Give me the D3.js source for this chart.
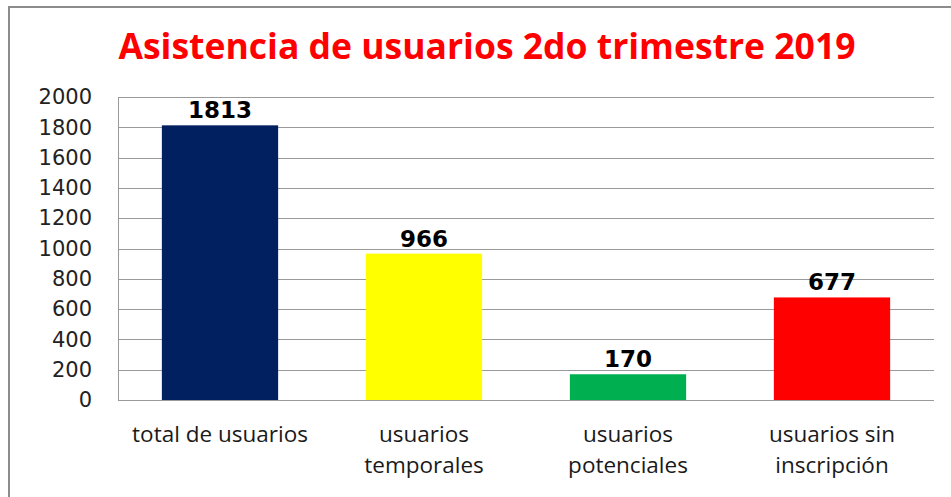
<!DOCTYPE html>
<html>
<head>
<meta charset="utf-8">
<script src="https://cdn.jsdelivr.net/npm/d3@7"></script>
<style>
  body { margin: 0; background: #fff; }
  svg { display: block; }
</style>
</head>
<body>
<div id="chart"></div>
<script>
var categories = [["total de usuarios"], ["usuarios", "temporales"], ["usuarios", "potenciales"], ["usuarios sin", "inscripción"]]
var values = [1813, 966, 170, 677]
var colors = ["#002060", "#ffff00", "#00b050", "#ff0000"]
var yTicks = [0, 200, 400, 600, 800, 1000, 1200, 1400, 1600, 1800, 2000]
var title = "Asistencia de usuarios 2do trimestre 2019"

var width = 951, height = 497
var margin = { left: 118, right: 17, top: 97, bottom: 97 }

const svg = d3.select("#chart")
    .append("svg")
    .attr("width", width)
    .attr("height", height)

// outer frame
svg.append("rect")
    .attr("x", 9).attr("y", 7)
    .attr("width", width + 20).attr("height", height + 20)
    .attr("fill", "none")
    .attr("stroke", "#8c8c8c")
    .attr("stroke-width", 2)

svg.append("text")
    .attr("x", 487).attr("y", 59)
    .attr("text-anchor", "middle")
    .style("font-family", "'Open Sans', sans-serif")
    .style("font-weight", "bold")
    .style("font-size", "35.5px")
    .style("fill", "#ff0000")
    .text(title)

var idx = values.map((d, i) => i)
var xScale = d3.scaleBand()
    .domain(idx)
    .range([margin.left, width - margin.right])
    .paddingInner(0.43)
    .paddingOuter(0.215)
var yScale = d3.scaleLinear()
    .domain([0, 2000])
    .range([height - margin.bottom, margin.top])

// gridlines
svg.append("g")
    .selectAll("line")
    .data(yTicks)
    .enter()
    .append("line")
    .attr("x1", margin.left)
    .attr("x2", width - margin.right)
    .attr("y1", d => Math.round(yScale(d)) + 0.5)
    .attr("y2", d => Math.round(yScale(d)) + 0.5)
    .attr("stroke", "#9a9a9a")
    .attr("stroke-width", 1)

svg.append("line")
    .attr("x1", margin.left + 0.5).attr("x2", margin.left + 0.5)
    .attr("y1", yScale(2000)).attr("y2", yScale(0) + 1)
    .attr("stroke", "#9a9a9a")

// y axis labels
svg.append("g")
    .attr("transform", "translate(92,0)")
    .call(d3.axisLeft(yScale).tickValues(yTicks).tickFormat(d3.format("d")).tickSize(0).tickPadding(0))
    .call(g => g.select(".domain").remove())
    .selectAll("text")
    .style("font-family", "'DejaVu Sans', sans-serif")
    .style("font-size", "21px")
    .style("fill", "#222")

// bars
svg.append("g")
    .selectAll("rect")
    .data(values)
    .enter()
    .append("rect")
    .attr("x", (d, i) => xScale(i))
    .attr("y", d => yScale(d))
    .attr("width", xScale.bandwidth())
    .attr("height", d => yScale(0) - yScale(d))
    .style("fill", (d, i) => colors[i])

// value labels
svg.append("g")
    .selectAll("text")
    .data(values)
    .enter()
    .append("text")
    .attr("x", (d, i) => xScale(i) + xScale.bandwidth() / 2)
    .attr("y", d => yScale(d) - 7)
    .attr("text-anchor", "middle")
    .style("font-family", "'DejaVu Sans', sans-serif")
    .style("font-weight", "bold")
    .style("font-size", "23px")
    .style("fill", "#000")
    .text(d => d)

// category labels
var cat = svg.append("g")
    .selectAll("text")
    .data(categories)
    .enter()
    .append("text")
    .attr("x", (d, i) => xScale(i) + xScale.bandwidth() / 2)
    .attr("y", 442)
    .attr("text-anchor", "middle")
    .style("font-family", "'Open Sans', sans-serif")
    .style("font-size", "22.5px")
    .style("fill", "#1a1a1a")
cat.selectAll("tspan")
    .data(d => d)
    .enter()
    .append("tspan")
    .attr("x", function () { return d3.select(this.parentNode).attr("x") })
    .attr("dy", (d, i) => i === 0 ? 0 : 30.5)
    .text(d => d)
</script>
</body>
</html>
